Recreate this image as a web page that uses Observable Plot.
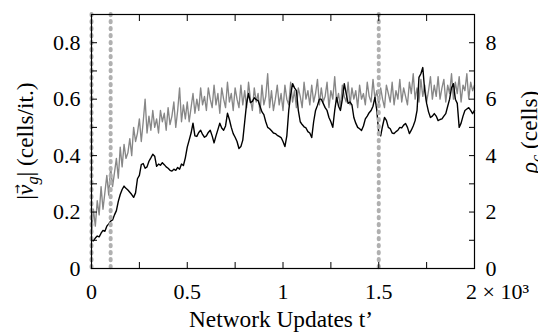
<!DOCTYPE html>
<html><head><meta charset="utf-8">
<script src="https://cdn.jsdelivr.net/npm/d3@7"></script>
<script src="https://cdn.jsdelivr.net/npm/@observablehq/plot@0.6"></script>
<style>body{margin:0;background:#fff} svg{display:block}</style>
</head><body><div id="chart"></div>
<script>
// time samples (network updates), every 10 updates
const times = d3.range(0, 2001, 10);
// |v_g| (cells/it.)
const speed = [
0.100,0.098,0.108,0.115,0.112,0.125,0.135,0.132,0.150,0.158,
0.168,0.172,0.190,0.205,0.238,0.262,0.280,0.292,0.284,0.278,
0.270,0.262,0.252,0.268,0.318,0.330,0.368,0.372,0.355,0.360,
0.380,0.392,0.405,0.398,0.362,0.370,0.366,0.375,0.368,0.360,
0.355,0.348,0.345,0.352,0.348,0.358,0.352,0.370,0.365,0.392,
0.430,0.455,0.480,0.515,0.470,0.468,0.482,0.490,0.475,0.465,
0.470,0.482,0.490,0.470,0.445,0.470,0.492,0.515,0.498,0.490,
0.505,0.550,0.528,0.500,0.478,0.465,0.450,0.425,0.432,0.455,
0.520,0.585,0.620,0.588,0.592,0.605,0.598,0.595,0.575,0.555,
0.545,0.520,0.500,0.495,0.488,0.480,0.478,0.472,0.468,0.464,
0.450,0.432,0.470,0.560,0.615,0.655,0.640,0.630,0.560,0.520,
0.510,0.502,0.498,0.485,0.480,0.464,0.520,0.560,0.578,0.600,
0.600,0.585,0.570,0.560,0.535,0.520,0.500,0.560,0.606,0.575,
0.560,0.600,0.655,0.620,0.585,0.590,0.580,0.535,0.515,0.500,
0.495,0.489,0.505,0.530,0.540,0.552,0.560,0.575,0.606,0.560,
0.480,0.470,0.505,0.535,0.525,0.500,0.495,0.480,0.478,0.485,
0.490,0.500,0.498,0.508,0.514,0.500,0.478,0.490,0.505,0.524,
0.560,0.677,0.690,0.712,0.630,0.585,0.555,0.535,0.540,0.549,
0.540,0.524,0.528,0.530,0.540,0.549,0.575,0.600,0.640,0.655,
0.600,0.585,0.500,0.515,0.540,0.560,0.565,0.570,0.560,0.549,
0.560];
// rho_c (cells)
const rho = [
1.2,2.1,1.5,2.4,1.9,2.9,2.1,2.7,3.3,2.6,
3.6,2.9,3.4,3.9,3.2,4.3,3.6,4.4,3.9,4.1,
4.6,4.0,5.0,4.5,4.8,5.3,4.5,5.2,6.0,4.8,
5.4,4.9,5.6,5.0,5.3,4.8,5.6,5.2,5.5,4.9,
5.7,5.1,5.4,5.9,5.0,5.6,6.4,5.2,5.8,5.3,
5.9,5.2,5.7,6.2,5.5,6.0,5.6,6.4,5.8,6.1,
5.6,6.4,6.0,5.7,6.5,5.8,6.2,5.5,6.4,6.0,
5.7,6.6,5.9,6.2,5.6,6.4,6.0,5.7,6.5,5.8,
6.3,5.7,6.6,6.0,5.6,6.4,5.9,6.2,5.5,6.5,
5.8,6.1,6.9,5.7,6.3,5.6,6.0,6.5,5.8,6.2,
5.6,6.5,6.0,5.8,6.6,5.9,6.3,5.7,6.4,6.1,
5.7,6.6,6.0,6.3,5.8,6.5,5.9,6.2,6.7,5.8,
6.4,5.9,6.1,6.6,5.7,6.3,6.0,6.8,5.9,6.2,
5.7,6.5,6.1,5.9,6.6,5.8,6.4,6.0,6.3,5.7,
6.5,6.0,6.2,5.8,6.6,6.1,5.9,6.7,6.0,6.3,
5.8,6.4,6.0,5.7,6.5,6.2,5.9,6.6,5.8,6.3,
6.0,6.7,5.9,6.4,6.1,5.8,6.6,6.2,6.9,6.0,
6.4,5.9,6.7,6.1,6.5,5.9,6.3,6.8,6.0,6.5,
6.1,6.8,6.0,6.4,6.7,5.9,6.5,6.2,6.9,6.0,
6.6,6.2,6.8,5.9,6.5,6.3,6.9,6.0,6.6,6.3,
6.5];
const markers = [0, 100, 1500];
const xTicks = [0, 250, 500, 750, 1000, 1250, 1500, 1750, 2000];
const xLabels = [0, 500, 1000, 1500];
const yTicks = [0, 0.1, 0.2, 0.3, 0.4, 0.5, 0.6, 0.7, 0.8, 0.9];
const yLabels = [0, 0.2, 0.4, 0.6, 0.8];
const xTitle = "Network Updates t’";
const xScaleNote = "2 × 10³";

const speedData = times.map((t, i) => ({t, v: speed[i]}));
const rhoData = times.map((t, i) => ({t, r: rho[i]}));

const font = "'Liberation Serif', 'DejaVu Serif', serif";
const cv = document.createElement("canvas").getContext("2d");
cv.font = `100px ${font}`;
const clamp = (v, a, b) => Math.max(a, Math.min(b, v));
const titleFs = clamp(184 / (cv.measureText(xTitle).width / 100), 15, 24);
const tickFs = clamp(27.5 / (cv.measureText("0.5").width / 100), 15, 24);
const padB = 30 - 0.71 * tickFs;

const plot = Plot.plot({
  width: 538, height: 332,
  marginLeft: 91, marginRight: 64, marginTop: 14, marginBottom: 64,
  style: {fontFamily: font, fontSize: tickFs + "px", background: "white", color: "black", overflow: "visible"},
  x: {domain: [0, 2000]},
  y: {domain: [0, 0.9]},
  marks: [
    Plot.line(rhoData, {x: "t", y: d => d.r / 10, stroke: "#878787", strokeWidth: 1.35}),
    Plot.line(speedData, {x: "t", y: "v", stroke: "black", strokeWidth: 1.4}),
    Plot.ruleX(markers, {stroke: "#b0b0b0", strokeWidth: 4, strokeLinecap: "round", strokeDasharray: "1.3,5.7"}),
    Plot.axisX(xTicks, {anchor: "bottom", tickSize: -6, tickFormat: () => "", label: null}),
    Plot.axisX(xTicks, {anchor: "top", tickSize: -6, tickFormat: () => "", label: null}),
    Plot.axisX(xLabels, {anchor: "bottom", tickSize: 0, tickPadding: padB, tickFormat: d => d === 0 ? "0" : String(d / 1000), label: null}),
    Plot.axisY(yTicks, {anchor: "left", tickSize: -6, tickFormat: () => "", label: null}),
    Plot.axisY(yTicks, {anchor: "right", tickSize: -6, tickFormat: () => "", label: null}),
    Plot.axisY(yLabels, {anchor: "left", tickSize: 0, tickPadding: 11, tickFormat: d => d === 0 ? "0" : d.toFixed(1), label: null}),
    Plot.axisY(yLabels, {anchor: "right", tickSize: 0, tickPadding: 11, tickFormat: d => String(Math.round(d * 10)), label: null}),
    Plot.frame({stroke: "black", strokeWidth: 1.2}),
    Plot.text([xScaleNote], {x: 2000, text: d => d, frameAnchor: "bottom", textAnchor: "start", lineAnchor: "top", dx: -8.5, dy: padB})
  ]
});
const svg = d3.select(plot);
svg.append("text").attr("x", 281).attr("y", 327).attr("text-anchor", "middle")
  .attr("font-family", font).attr("font-size", titleFs).attr("fill", "black").text(xTitle);

const fs = titleFs;
const ylT = "translate(33,141) rotate(-90)";
const yl = svg.append("text").attr("transform", ylT)
  .attr("text-anchor", "middle").attr("font-family", font).attr("font-size", fs).attr("fill", "black");
yl.append("tspan").text("|");
const vSpan = yl.append("tspan").attr("font-style", "italic").text("v");
yl.append("tspan").attr("font-style", "italic").attr("font-size", fs * 0.7).attr("dy", fs * 0.22).text("g");
yl.append("tspan").attr("dy", -fs * 0.22).text("| (cells/it.)");

const rl = svg.append("text").attr("transform", "translate(537,132) rotate(-90)")
  .attr("text-anchor", "middle").attr("font-family", font).attr("font-size", fs).attr("fill", "black");
rl.append("tspan").attr("font-style", "italic").text("ρ");
rl.append("tspan").attr("font-style", "italic").attr("font-size", fs * 0.7).attr("dy", fs * 0.22).text("c");
rl.append("tspan").attr("dy", -fs * 0.22).text(" (cells)");

document.getElementById("chart").appendChild(plot);

// vector arrow over the italic v
const p = yl.node().getStartPositionOfChar(1);
const vLen = vSpan.node().getComputedTextLength();
svg.append("text").attr("transform", ylT)
  .attr("x", p.x + vLen / 2 + 1).attr("y", p.y - fs * 0.52)
  .attr("text-anchor", "middle").attr("font-family", "'DejaVu Sans', sans-serif")
  .attr("font-size", fs * 0.5).attr("fill", "black").text("→");
</script>
</body></html>
